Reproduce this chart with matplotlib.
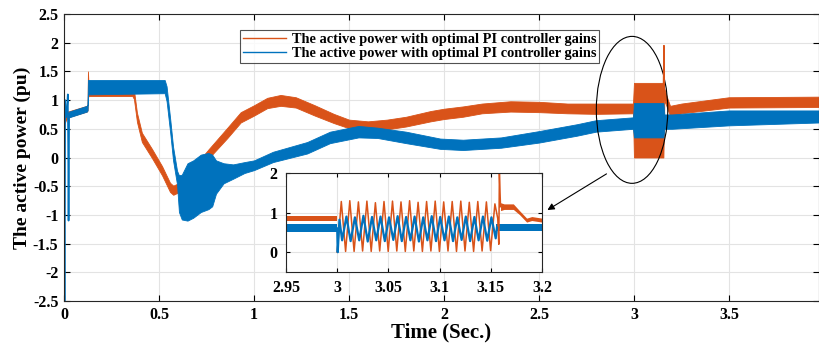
import matplotlib
matplotlib.use("Agg")
import matplotlib.pyplot as plt
from matplotlib.patches import Ellipse
import numpy as np

plt.rcParams['font.family'] = ['Liberation Serif', 'DejaVu Serif']
plt.rcParams['font.weight'] = 'bold'

ORANGE = '#D95319'
BLUE = '#0072BD'
label = "The active power with optimal PI controller gains"

# main chart: orange band (time, lower, upper)
or_t  = [0.004, 0.010, 0.020, 0.120, 0.124, 0.126, 0.130, 0.360, 0.368, 0.384, 0.410, 0.463, 0.516, 0.558, 0.575,
         0.620, 0.680, 0.720, 0.760, 0.860, 0.930, 1.000, 1.070, 1.140, 1.220, 1.320, 1.420, 1.500, 1.600, 1.700,
         1.800, 1.930, 2.000, 2.100, 2.200, 2.350, 2.500, 2.650, 2.800, 2.995, 3.000, 3.155, 3.160, 3.175, 3.190,
         3.250, 3.500, 3.974]
or_lo = [0.60, 0.65, 0.70, 0.80, 0.82, 1.05, 1.07, 1.07, 1.02, 0.62, 0.27, -0.01, -0.31, -0.60, -0.65,
         -0.58, -0.38, -0.18, -0.02, 0.34, 0.61, 0.73, 0.86, 0.90, 0.87, 0.73, 0.60, 0.51, 0.48, 0.49,
         0.54, 0.63, 0.67, 0.71, 0.77, 0.80, 0.79, 0.77, 0.76, 0.77, 0.00, 0.00, 1.00, 0.86, 0.72,
         0.77, 0.87, 0.88]
or_hi = [1.00, 0.85, 0.80, 0.90, 0.92, 1.50, 1.20, 1.18, 1.18, 0.78, 0.43, 0.15, -0.15, -0.44, -0.49,
         -0.42, -0.22, -0.02, 0.14, 0.52, 0.79, 0.91, 1.04, 1.09, 1.05, 0.91, 0.76, 0.66, 0.63, 0.66,
         0.71, 0.81, 0.85, 0.89, 0.94, 0.98, 0.97, 0.94, 0.94, 0.94, 1.30, 1.30, 1.20, 1.04, 0.90,
         0.94, 1.05, 1.06]
or_spike_t = [3.155, 3.158, 3.160]
or_spike_v = [1.20, 1.95, 1.10]

# main chart: blue start-up transient and band
bl_tr_t = [0.000, 0.002, 0.004, 0.006, 0.010, 0.015, 0.020, 0.022, 0.024, 0.027]
bl_tr_v = [0.00, -2.50, -2.50, 1.00, 0.70, 0.80, 1.10, 0.20, -1.10, 0.75]
bl_t  = [0.027, 0.120, 0.124, 0.126, 0.530, 0.540, 0.560, 0.574, 0.595, 0.605, 0.620, 0.650, 0.680, 0.720,
         0.760, 0.780, 0.800, 0.840, 0.890, 0.950, 1.000, 1.100, 1.280, 1.400, 1.550, 1.650, 1.800, 1.980,
         2.100, 2.300, 2.500, 2.700, 2.800, 2.995, 3.000, 3.155, 3.160, 3.200, 3.500, 3.974]
bl_lo = [0.70, 0.80, 0.82, 1.10, 1.12, 0.98, 0.40, -0.05, -0.47, -0.95, -1.08, -1.10, -1.05, -0.95,
         -0.90, -0.85, -0.63, -0.45, -0.37, -0.27, -0.22, -0.08, 0.07, 0.25, 0.35, 0.34, 0.25, 0.15,
         0.13, 0.17, 0.26, 0.38, 0.45, 0.50, 0.35, 0.35, 0.50, 0.50, 0.56, 0.61]
bl_hi = [0.80, 0.90, 0.92, 1.35, 1.35, 1.24, 0.64, 0.19, -0.23, -0.31, -0.30, -0.10, -0.05, 0.05,
         0.08, 0.05, -0.05, -0.10, -0.12, -0.08, -0.05, 0.10, 0.27, 0.45, 0.55, 0.52, 0.45, 0.33,
         0.31, 0.35, 0.46, 0.58, 0.65, 0.70, 0.95, 0.95, 0.75, 0.75, 0.82, 0.82]

# inset: bands before and after the disturbance
ins_or_pre_t, ins_or_pre_lo, ins_or_pre_hi = [2.95, 3.0], [0.80, 0.80], [0.92, 0.92]
ins_bl_pre_t, ins_bl_pre_lo, ins_bl_pre_hi = [2.95, 3.0], [0.52, 0.52], [0.70, 0.70]
ins_or_post_t  = [3.1595, 3.163, 3.172, 3.178, 3.185, 3.190, 3.200]
ins_or_post_lo = [1.05, 1.08, 1.08, 0.95, 0.76, 0.80, 0.76]
ins_or_post_hi = [1.25, 1.22, 1.22, 1.05, 0.86, 0.90, 0.86]
ins_bl_post_t  = [3.155, 3.200]
ins_bl_post_lo = [0.53, 0.53]
ins_bl_post_hi = [0.70, 0.70]

# inset: oscillation turning points
osc_or_t = [3.0000, 3.0040, 3.0082, 3.0123, 3.0165, 3.0207, 3.0248, 3.0290, 3.0332, 3.0373, 3.0415, 3.0457,
            3.0498, 3.0540, 3.0582, 3.0623, 3.0665, 3.0707, 3.0748, 3.0790, 3.0832, 3.0873, 3.0915, 3.0957,
            3.0998, 3.1040, 3.1082, 3.1123, 3.1165, 3.1207, 3.1248, 3.1290, 3.1332, 3.1373, 3.1415, 3.1457,
            3.1498, 3.1540, 3.1568, 3.1578, 3.1584, 3.1595]
osc_or_v = [0.00, 1.28, 0.02, 1.30, 0.02, 1.27, 0.03, 1.29, 0.02, 1.25, 0.03, 1.28,
            0.02, 1.29, 0.03, 1.27, 0.02, 1.30, 0.03, 1.26, 0.02, 1.28, 0.03, 1.29,
            0.02, 1.27, 0.03, 1.28, 0.02, 1.29, 0.03, 1.26, 0.02, 1.28, 0.03, 1.27,
            0.04, 1.22, 0.85, 0.20, 1.98, 1.15]
osc_bl_t = [3.0000, 3.0005, 3.0022, 3.0048, 3.0090, 3.0131, 3.0173, 3.0215, 3.0256, 3.0298, 3.0340, 3.0381,
            3.0423, 3.0465, 3.0506, 3.0548, 3.0590, 3.0631, 3.0673, 3.0715, 3.0756, 3.0798, 3.0840, 3.0881,
            3.0923, 3.0965, 3.1006, 3.1048, 3.1090, 3.1131, 3.1173, 3.1215, 3.1256, 3.1298, 3.1340, 3.1381,
            3.1423, 3.1465, 3.1506, 3.1548, 3.1560]
osc_bl_v = [0.60, 0.00, 0.82, 0.30, 0.90, 0.28, 0.88, 0.30, 0.92, 0.27, 0.89, 0.30,
            0.90, 0.28, 0.88, 0.31, 0.91, 0.28, 0.89, 0.30, 0.90, 0.27, 0.88, 0.30,
            0.91, 0.28, 0.89, 0.30, 0.90, 0.28, 0.88, 0.31, 0.90, 0.28, 0.89, 0.30,
            0.90, 0.29, 0.88, 0.35, 0.62]

fig = plt.figure(figsize=(8.19, 3.44), dpi=100)
ax = fig.add_axes([64/819, 43/344, 755/819, 287/344])

ax.fill_between(or_t, or_lo, or_hi, color=ORANGE, lw=0.6, ec=ORANGE)
ax.plot(or_spike_t, or_spike_v, color=ORANGE, lw=1.0)
ax.plot(bl_tr_t, bl_tr_v, color=BLUE, lw=1.2)
ax.fill_between(bl_t, bl_lo, bl_hi, color=BLUE, lw=0.6, ec=BLUE)
# legend handles
ax.plot([], [], color=ORANGE, lw=1.0, label=label)
ax.plot([], [], color=BLUE, lw=1.0, label=label)

ax.set_xlim(0, 3.974)
ax.set_ylim(-2.5, 2.5)
ax.set_xticks([0, 0.5, 1, 1.5, 2, 2.5, 3, 3.5])
ax.set_xticklabels(['0', '0.5', '1', '1.5', '2', '2.5', '3', '3.5'])
ax.set_yticks(np.arange(-2.5, 2.51, 0.5))
ax.set_yticklabels(['-2.5', '-2', '-1.5', '-1', '-0.5', '0', '0.5', '1', '1.5', '2', '2.5'])
ax.tick_params(direction='in', top=True, right=True, labelsize=11.5, length=4, pad=4)
ax.grid(True, color='#e3e3e3', lw=0.8)
ax.set_axisbelow(True)
for s in ax.spines.values():
    s.set_color('#262626')
    s.set_linewidth(0.8)
ax.set_xlabel('Time (Sec.)', fontsize=15, fontweight='bold', labelpad=0)
ax.set_ylabel('The active power (pu)', fontsize=14, fontweight='bold', labelpad=1)

leg = ax.legend(loc='upper left', bbox_to_anchor=(0.233, 0.944), fontsize=10.4, frameon=True,
                fancybox=False, edgecolor='#262626', handlelength=3.0, borderpad=0.2,
                labelspacing=0.05, handletextpad=0.4, borderaxespad=0)
leg.get_frame().set_linewidth(0.8)
for t in leg.get_texts():
    t.set_fontweight('bold')

ax.add_patch(Ellipse((2.99, 0.83), 0.376, 2.56, fill=False, ec='black', lw=0.8))
ax.annotate('', xy=(2.532, -0.94), xytext=(2.868, -0.26),
            arrowprops=dict(arrowstyle='-|>', color='black', lw=0.8, mutation_scale=10))

# inset
ins = fig.add_axes([286/819, 72/344, 256/819, 99/344])
ins.fill_between(ins_or_pre_t, ins_or_pre_lo, ins_or_pre_hi, color=ORANGE, lw=0)
ins.fill_between(ins_or_post_t, ins_or_post_lo, ins_or_post_hi, color=ORANGE, lw=0)
ins.plot(osc_or_t, osc_or_v, color=ORANGE, lw=1.1)
ins.fill_between(ins_bl_pre_t, ins_bl_pre_lo, ins_bl_pre_hi, color=BLUE, lw=0)
ins.fill_between(ins_bl_post_t, ins_bl_post_lo, ins_bl_post_hi, color=BLUE, lw=0)
ins.plot(osc_bl_t, osc_bl_v, color=BLUE, lw=1.6)
ins.set_xlim(2.95, 3.2)
ins.set_ylim(-0.5, 2)
ins.set_xticks([2.95, 3.0, 3.05, 3.1, 3.15, 3.2])
ins.set_xticklabels(['2.95', '3', '3.05', '3.1', '3.15', '3.2'])
ins.set_yticks([0, 1, 2])
ins.tick_params(direction='in', top=True, right=True, labelsize=11.5, length=3, pad=6)
ins.grid(True, color='#e3e3e3', lw=0.8)
ins.set_axisbelow(True)
for s in ins.spines.values():
    s.set_color('#262626')
    s.set_linewidth(0.8)

fig.savefig('out.png', dpi=100)
